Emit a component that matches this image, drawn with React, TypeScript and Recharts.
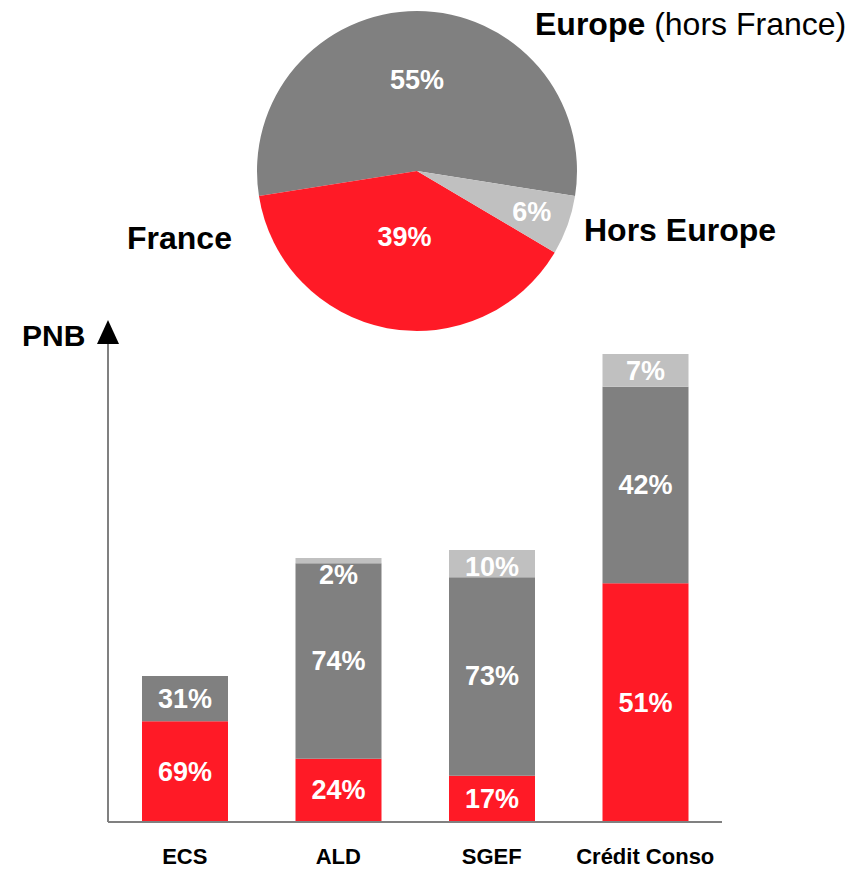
import React from 'react';
import { PieChart, Pie, Cell, BarChart, Bar, XAxis, YAxis, LabelList } from 'recharts';

// geographic split of PNB (pie)
const regions = ['Europe', 'France', 'Hors Europe'];
const regionShares = [55, 39, 6];

// PNB by business line (bar height = relative PNB), split by region in %
const businesses = ['ECS', 'ALD', 'SGEF', 'Crédit Conso'];
const pnbTotals = [146, 264, 272, 468];
const franceShare = [69, 24, 17, 51];
const europeShare = [31, 74, 73, 42];
const horsEuropeShare = [0, 2, 10, 7];

const RED = '#FF1A26';
const GRAY = '#808080';
const LIGHT = '#C0C0C0';
const FONT = '"Liberation Sans", Arial, sans-serif';

const regionColors = [GRAY, RED, LIGHT];
const pieLabelRadius = [91, 67, 122];

const pieData = regions.map((name, i) => ({ name, value: regionShares[i] }));

const pct = (v: number) => (v > 0 ? `${v}%` : '');

const barData = businesses.map((name, i) => ({
    name,
    france: (pnbTotals[i] * franceShare[i]) / 100,
    europe: (pnbTotals[i] * europeShare[i]) / 100,
    horsEurope: (pnbTotals[i] * horsEuropeShare[i]) / 100,
    frLabel: pct(franceShare[i]),
    euLabel: pct(europeShare[i]),
    hoLabel: pct(horsEuropeShare[i]),
}));

const RADIAN = Math.PI / 180;

function renderPieLabel(props: any) {
    const { cx, cy, midAngle, index, value } = props;
    const r = pieLabelRadius[index];
    const x = cx + r * Math.cos(-midAngle * RADIAN);
    const y = cy + r * Math.sin(-midAngle * RADIAN);
    return (
        <text x={x} y={y} fill="#fff" fontSize={27} fontWeight="bold" fontFamily={FONT}
            textAnchor="middle" dominantBaseline="central">
            {value}%
        </text>
    );
}

function makeBarLabel(topAligned: boolean) {
    return (props: any) => {
        const { x, y, width, height, value } = props;
        if (!value) return null;
        const cy = topAligned ? Math.max(y + height / 2, y + 17) : y + height / 2;
        return (
            <text x={x + width / 2} y={cy} fill="#fff" fontSize={27} fontWeight="bold"
                fontFamily={FONT} textAnchor="middle" dominantBaseline="central">
                {value}
            </text>
        );
    };
}

export default function App() {
    return (
        <div style={{ position: 'absolute', left: 0, top: 0, width: 864, height: 869, background: '#fff', fontFamily: FONT }}>
            <div style={{ position: 'absolute', left: 0, top: 0 }}>
                <PieChart width={864} height={340} margin={{ top: 0, right: 0, bottom: 0, left: 0 }}>
                    <Pie
                        data={pieData}
                        dataKey="value"
                        nameKey="name"
                        cx={417}
                        cy={171}
                        outerRadius={160}
                        startAngle={-9}
                        endAngle={351}
                        stroke="none"
                        label={renderPieLabel}
                        labelLine={false}
                        isAnimationActive={false}
                    >
                        {pieData.map((d, i) => (
                            <Cell key={d.name} fill={regionColors[i]} />
                        ))}
                    </Pie>
                </PieChart>
            </div>

            <div style={{ position: 'absolute', left: 0, top: 300 }}>
                <BarChart width={864} height={569} data={barData}
                    margin={{ top: 43, right: 142, bottom: 17, left: 98 }}>
                    <XAxis
                        dataKey="name"
                        height={30}
                        tickLine={false}
                        tickSize={0}
                        tickMargin={26}
                        axisLine={{ stroke: GRAY, strokeWidth: 2 }}
                        tick={{ fontSize: 22, fontWeight: 'bold', fill: '#000', fontFamily: FONT }}
                    />
                    <YAxis
                        type="number"
                        domain={[0, 479]}
                        width={10}
                        tick={false}
                        tickLine={false}
                        axisLine={{ stroke: GRAY, strokeWidth: 2 }}
                    />
                    <Bar dataKey="france" stackId="pnb" fill={RED} barSize={86} isAnimationActive={false}>
                        <LabelList dataKey="frLabel" content={makeBarLabel(false)} />
                    </Bar>
                    <Bar dataKey="europe" stackId="pnb" fill={GRAY} barSize={86} isAnimationActive={false}>
                        <LabelList dataKey="euLabel" content={makeBarLabel(false)} />
                    </Bar>
                    <Bar dataKey="horsEurope" stackId="pnb" fill={LIGHT} barSize={86} isAnimationActive={false}>
                        <LabelList dataKey="hoLabel" content={makeBarLabel(true)} />
                    </Bar>
                </BarChart>
            </div>

            <svg width={864} height={869} style={{ position: 'absolute', left: 0, top: 0, pointerEvents: 'none' }}>
                <text x={535} y={35} fontSize={32} fontFamily={FONT} fill="#000">
                    <tspan fontWeight="bold">Europe</tspan>
                    <tspan> (hors France)</tspan>
                </text>
                <text x={127} y={249} fontSize={32} fontWeight="bold" fontFamily={FONT} fill="#000">France</text>
                <text x={584} y={241} fontSize={32} fontWeight="bold" fontFamily={FONT} fill="#000">Hors Europe</text>
                <text x={22} y={346} fontSize={30} fontWeight="bold" fontFamily={FONT} fill="#000">PNB</text>
                <polygon points="108,320 97,344 119,344" fill="#000" />
            </svg>
        </div>
    );
}
